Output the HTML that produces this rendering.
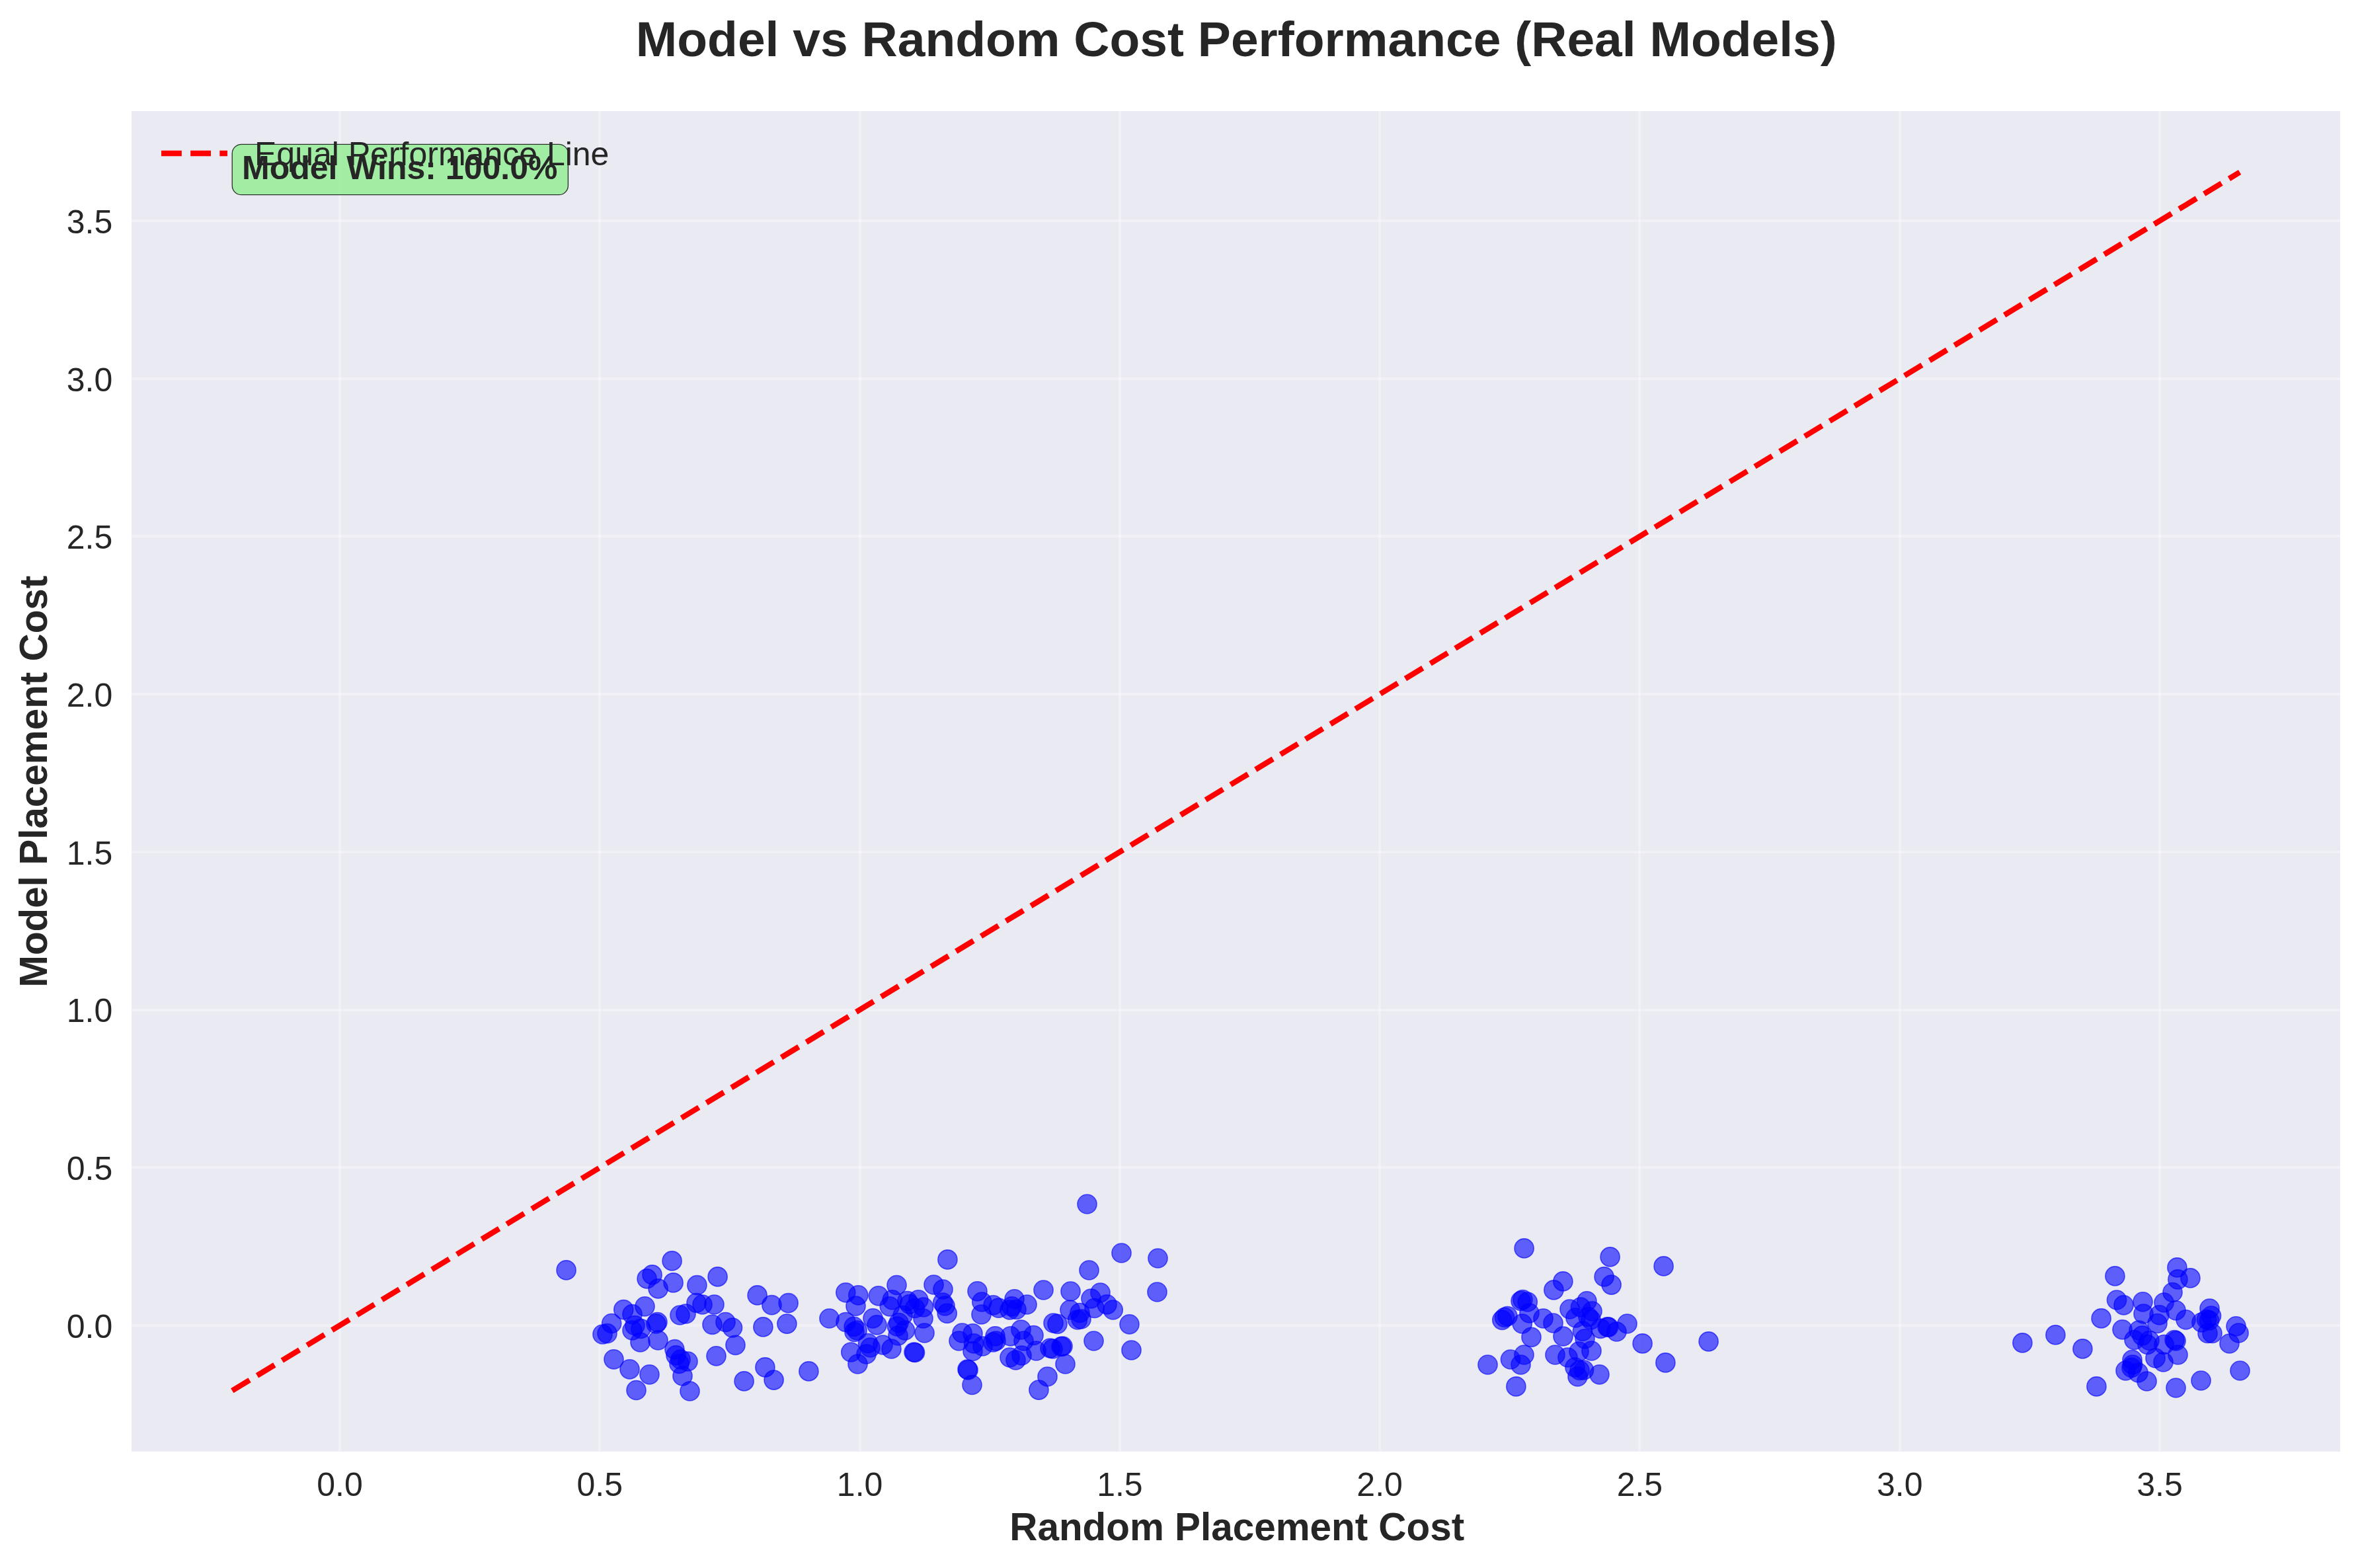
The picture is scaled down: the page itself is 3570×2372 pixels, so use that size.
<!DOCTYPE html>
<html><head><meta charset="utf-8"><title>Model vs Random Cost Performance</title>
<style>
html,body{margin:0;padding:0;background:#fff;}
body{width:3570px;height:2372px;overflow:hidden;}
svg{display:block;font-family:"Liberation Sans",sans-serif;fill:#262626;}
.g line{stroke:#fff;stroke-opacity:.3;stroke-width:4;}
.tk{font-size:50px;}
.p circle{fill:#0000ff;fill-opacity:.6;stroke:#0000ff;stroke-opacity:.6;stroke-width:1.6;}
</style></head><body>
<svg width="3570" height="2372" viewBox="0 0 3570 2372">
<rect x="0" y="0" width="3570" height="2372" fill="#ffffff"/>
<rect x="199.0" y="168.0" width="3341.0" height="2027.8" fill="#eaeaf2"/>
<g class="g">
<line x1="514" y1="168.0" x2="514" y2="2195.8"/>
<line x1="199.0" y1="2005" x2="3540.0" y2="2005"/>
<line x1="907" y1="168.0" x2="907" y2="2195.8"/>
<line x1="199.0" y1="1766" x2="3540.0" y2="1766"/>
<line x1="1301" y1="168.0" x2="1301" y2="2195.8"/>
<line x1="199.0" y1="1528" x2="3540.0" y2="1528"/>
<line x1="1694" y1="168.0" x2="1694" y2="2195.8"/>
<line x1="199.0" y1="1289" x2="3540.0" y2="1289"/>
<line x1="2087" y1="168.0" x2="2087" y2="2195.8"/>
<line x1="199.0" y1="1050" x2="3540.0" y2="1050"/>
<line x1="2480" y1="168.0" x2="2480" y2="2195.8"/>
<line x1="199.0" y1="811" x2="3540.0" y2="811"/>
<line x1="2874" y1="168.0" x2="2874" y2="2195.8"/>
<line x1="199.0" y1="573" x2="3540.0" y2="573"/>
<line x1="3267" y1="168.0" x2="3267" y2="2195.8"/>
<line x1="199.0" y1="334" x2="3540.0" y2="334"/>
</g>
<g class="tk" text-anchor="middle">
<text x="514.0" y="2263">0.0</text>
<text x="907.3" y="2263">0.5</text>
<text x="1300.6" y="2263">1.0</text>
<text x="1693.9" y="2263">1.5</text>
<text x="2087.1" y="2263">2.0</text>
<text x="2480.4" y="2263">2.5</text>
<text x="2873.7" y="2263">3.0</text>
<text x="3267.0" y="2263">3.5</text>
</g><g class="tk" text-anchor="end">
<text x="170.3" y="2023.8">0.0</text>
<text x="170.3" y="1785.1">0.5</text>
<text x="170.3" y="1546.4">1.0</text>
<text x="170.3" y="1307.7">1.5</text>
<text x="170.3" y="1068.9">2.0</text>
<text x="170.3" y="830.2">2.5</text>
<text x="170.3" y="591.5">3.0</text>
<text x="170.3" y="352.8">3.5</text>
</g>
<g class="p">
<circle cx="856.6" cy="1921.4" r="14.55"/>
<circle cx="1016.6" cy="1907.4" r="14.55"/>
<circle cx="986.6" cy="1928.4" r="14.55"/>
<circle cx="978.6" cy="1934.4" r="14.55"/>
<circle cx="995.6" cy="1949.4" r="14.55"/>
<circle cx="1018.6" cy="1940.4" r="14.55"/>
<circle cx="1054.4" cy="1944.2" r="14.55"/>
<circle cx="1085.6" cy="1931.4" r="14.55"/>
<circle cx="1145.6" cy="1959.4" r="14.55"/>
<circle cx="1167.4" cy="1974.2" r="14.55"/>
<circle cx="1192.6" cy="1971.2" r="14.55"/>
<circle cx="1154.4" cy="2007.4" r="14.55"/>
<circle cx="1190.4" cy="2002.6" r="14.55"/>
<circle cx="1125.6" cy="2089.4" r="14.55"/>
<circle cx="1157.4" cy="2068.4" r="14.55"/>
<circle cx="1170.6" cy="2087.6" r="14.55"/>
<circle cx="1223.4" cy="2074.4" r="14.55"/>
<circle cx="943.3" cy="1981.2" r="14.55"/>
<circle cx="956.5" cy="1988.2" r="14.55"/>
<circle cx="975.5" cy="1976.3" r="14.55"/>
<circle cx="925.2" cy="2002.0" r="14.55"/>
<circle cx="911.5" cy="2018.5" r="14.55"/>
<circle cx="918.5" cy="2017.2" r="14.55"/>
<circle cx="960.5" cy="2005.2" r="14.55"/>
<circle cx="956.5" cy="2012.5" r="14.55"/>
<circle cx="969.5" cy="2010.0" r="14.55"/>
<circle cx="994.5" cy="2000.0" r="14.55"/>
<circle cx="992.5" cy="2002.5" r="14.55"/>
<circle cx="968.5" cy="2030.5" r="14.55"/>
<circle cx="995.5" cy="2027.5" r="14.55"/>
<circle cx="1028.5" cy="1989.5" r="14.55"/>
<circle cx="1037.5" cy="1987.5" r="14.55"/>
<circle cx="1053.5" cy="1971.0" r="14.55"/>
<circle cx="1062.5" cy="1973.5" r="14.55"/>
<circle cx="1080.5" cy="1973.5" r="14.55"/>
<circle cx="1077.5" cy="2003.8" r="14.55"/>
<circle cx="1097.5" cy="2000.0" r="14.55"/>
<circle cx="1108.0" cy="2008.5" r="14.55"/>
<circle cx="1112.5" cy="2034.8" r="14.55"/>
<circle cx="1083.5" cy="2051.3" r="14.55"/>
<circle cx="1020.5" cy="2041.2" r="14.55"/>
<circle cx="1022.5" cy="2050.3" r="14.55"/>
<circle cx="1029.5" cy="2056.5" r="14.55"/>
<circle cx="1027.5" cy="2063.0" r="14.55"/>
<circle cx="1040.5" cy="2059.5" r="14.55"/>
<circle cx="1032.5" cy="2081.5" r="14.55"/>
<circle cx="1043.5" cy="2104.5" r="14.55"/>
<circle cx="928.5" cy="2056.3" r="14.55"/>
<circle cx="952.5" cy="2071.3" r="14.55"/>
<circle cx="982.5" cy="2079.3" r="14.55"/>
<circle cx="962.5" cy="2103.0" r="14.55"/>
<circle cx="1279.3" cy="1955.3" r="14.55"/>
<circle cx="1298.3" cy="1959.3" r="14.55"/>
<circle cx="1328.8" cy="1960.3" r="14.55"/>
<circle cx="1356.5" cy="1944.0" r="14.55"/>
<circle cx="1412.5" cy="1943.5" r="14.55"/>
<circle cx="1426.5" cy="1950.5" r="14.55"/>
<circle cx="1294.5" cy="1975.7" r="14.55"/>
<circle cx="1349.8" cy="1966.3" r="14.55"/>
<circle cx="1345.8" cy="1976.3" r="14.55"/>
<circle cx="1372.5" cy="1968.0" r="14.55"/>
<circle cx="1389.3" cy="1966.3" r="14.55"/>
<circle cx="1376.0" cy="1973.0" r="14.55"/>
<circle cx="1384.0" cy="1979.0" r="14.55"/>
<circle cx="1397.0" cy="1977.5" r="14.55"/>
<circle cx="1396.5" cy="1994.5" r="14.55"/>
<circle cx="1365.5" cy="1990.0" r="14.55"/>
<circle cx="1426.2" cy="1970.5" r="14.55"/>
<circle cx="1429.5" cy="1975.5" r="14.55"/>
<circle cx="1432.7" cy="1986.8" r="14.55"/>
<circle cx="1254.5" cy="1994.5" r="14.55"/>
<circle cx="1279.5" cy="2000.0" r="14.55"/>
<circle cx="1291.7" cy="2006.8" r="14.55"/>
<circle cx="1292.5" cy="2015.0" r="14.55"/>
<circle cx="1296.5" cy="2012.5" r="14.55"/>
<circle cx="1320.5" cy="1994.3" r="14.55"/>
<circle cx="1326.5" cy="2004.3" r="14.55"/>
<circle cx="1359.5" cy="2001.0" r="14.55"/>
<circle cx="1357.0" cy="2006.5" r="14.55"/>
<circle cx="1369.0" cy="2012.5" r="14.55"/>
<circle cx="1358.5" cy="2020.5" r="14.55"/>
<circle cx="1398.5" cy="2016.5" r="14.55"/>
<circle cx="1313.0" cy="2032.0" r="14.55"/>
<circle cx="1316.5" cy="2038.5" r="14.55"/>
<circle cx="1335.5" cy="2034.5" r="14.55"/>
<circle cx="1348.5" cy="2040.5" r="14.55"/>
<circle cx="1382.5" cy="2045.5" r="14.55"/>
<circle cx="1384.0" cy="2046.0" r="14.55"/>
<circle cx="1287.3" cy="2045.5" r="14.55"/>
<circle cx="1310.5" cy="2048.5" r="14.55"/>
<circle cx="1297.5" cy="2063.5" r="14.55"/>
<circle cx="1478.5" cy="1953.3" r="14.55"/>
<circle cx="1485.3" cy="1969.5" r="14.55"/>
<circle cx="1484.5" cy="1988.5" r="14.55"/>
<circle cx="1502.5" cy="1974.3" r="14.55"/>
<circle cx="1510.5" cy="1978.7" r="14.55"/>
<circle cx="1534.5" cy="1965.3" r="14.55"/>
<circle cx="1530.5" cy="1976.3" r="14.55"/>
<circle cx="1527.5" cy="1981.5" r="14.55"/>
<circle cx="1537.5" cy="1981.0" r="14.55"/>
<circle cx="1553.5" cy="1973.5" r="14.55"/>
<circle cx="1578.5" cy="1951.5" r="14.55"/>
<circle cx="1619.5" cy="1953.5" r="14.55"/>
<circle cx="1650.5" cy="1964.5" r="14.55"/>
<circle cx="1664.5" cy="1955.5" r="14.55"/>
<circle cx="1655.5" cy="1979.0" r="14.55"/>
<circle cx="1618.5" cy="1981.5" r="14.55"/>
<circle cx="1633.5" cy="1986.0" r="14.55"/>
<circle cx="1630.0" cy="1996.5" r="14.55"/>
<circle cx="1635.5" cy="1995.5" r="14.55"/>
<circle cx="1593.5" cy="2001.5" r="14.55"/>
<circle cx="1599.5" cy="2002.8" r="14.55"/>
<circle cx="1455.5" cy="2016.5" r="14.55"/>
<circle cx="1471.5" cy="2017.3" r="14.55"/>
<circle cx="1450.5" cy="2028.5" r="14.55"/>
<circle cx="1473.0" cy="2032.3" r="14.55"/>
<circle cx="1471.5" cy="2044.0" r="14.55"/>
<circle cx="1486.5" cy="2036.5" r="14.55"/>
<circle cx="1505.5" cy="2021.3" r="14.55"/>
<circle cx="1502.5" cy="2030.5" r="14.55"/>
<circle cx="1506.5" cy="2028.5" r="14.55"/>
<circle cx="1528.5" cy="2021.3" r="14.55"/>
<circle cx="1544.5" cy="2011.5" r="14.55"/>
<circle cx="1563.5" cy="2020.0" r="14.55"/>
<circle cx="1548.5" cy="2028.5" r="14.55"/>
<circle cx="1567.5" cy="2043.5" r="14.55"/>
<circle cx="1545.5" cy="2050.5" r="14.55"/>
<circle cx="1527.5" cy="2053.5" r="14.55"/>
<circle cx="1536.5" cy="2057.5" r="14.55"/>
<circle cx="1588.5" cy="2039.5" r="14.55"/>
<circle cx="1592.5" cy="2040.5" r="14.55"/>
<circle cx="1605.5" cy="2037.0" r="14.55"/>
<circle cx="1607.5" cy="2036.5" r="14.55"/>
<circle cx="1654.5" cy="2028.5" r="14.55"/>
<circle cx="1611.5" cy="2063.5" r="14.55"/>
<circle cx="1584.5" cy="2082.5" r="14.55"/>
<circle cx="1463.5" cy="2071.5" r="14.55"/>
<circle cx="1464.5" cy="2072.5" r="14.55"/>
<circle cx="1470.5" cy="2095.0" r="14.55"/>
<circle cx="1750.5" cy="1954.5" r="14.55"/>
<circle cx="1674.5" cy="1973.3" r="14.55"/>
<circle cx="1683.7" cy="1981.5" r="14.55"/>
<circle cx="1708.5" cy="2003.3" r="14.55"/>
<circle cx="1711.5" cy="2042.5" r="14.55"/>
<circle cx="1644.5" cy="1821.5" r="14.55"/>
<circle cx="1696.5" cy="1895.5" r="14.55"/>
<circle cx="1751.5" cy="1903.5" r="14.55"/>
<circle cx="1647.5" cy="1921.5" r="14.55"/>
<circle cx="1433.4" cy="1905.4" r="14.55"/>
<circle cx="1571.4" cy="2102.6" r="14.55"/>
<circle cx="2305.6" cy="1888.4" r="14.55"/>
<circle cx="2435.6" cy="1901.4" r="14.55"/>
<circle cx="2516.6" cy="1915.4" r="14.55"/>
<circle cx="2426.6" cy="1931.4" r="14.55"/>
<circle cx="2437.6" cy="1943.6" r="14.55"/>
<circle cx="2364.4" cy="1938.4" r="14.55"/>
<circle cx="2350.4" cy="1951.4" r="14.55"/>
<circle cx="2584.6" cy="2029.4" r="14.55"/>
<circle cx="2484.6" cy="2032.4" r="14.55"/>
<circle cx="2519.4" cy="2061.4" r="14.55"/>
<circle cx="2293.4" cy="2097.4" r="14.55"/>
<circle cx="2300.5" cy="1968.0" r="14.55"/>
<circle cx="2303.5" cy="1966.2" r="14.55"/>
<circle cx="2310.8" cy="1969.5" r="14.55"/>
<circle cx="2272.3" cy="1996.8" r="14.55"/>
<circle cx="2276.0" cy="1993.0" r="14.55"/>
<circle cx="2280.5" cy="1991.0" r="14.55"/>
<circle cx="2313.5" cy="1986.5" r="14.55"/>
<circle cx="2302.7" cy="2002.5" r="14.55"/>
<circle cx="2334.5" cy="1994.5" r="14.55"/>
<circle cx="2349.5" cy="2001.5" r="14.55"/>
<circle cx="2316.5" cy="2022.8" r="14.55"/>
<circle cx="2364.5" cy="2021.5" r="14.55"/>
<circle cx="2374.5" cy="1980.5" r="14.55"/>
<circle cx="2400.5" cy="1968.3" r="14.55"/>
<circle cx="2391.0" cy="1977.5" r="14.55"/>
<circle cx="2383.5" cy="1993.5" r="14.55"/>
<circle cx="2408.5" cy="1983.5" r="14.55"/>
<circle cx="2402.5" cy="1992.0" r="14.55"/>
<circle cx="2406.5" cy="1996.5" r="14.55"/>
<circle cx="2394.0" cy="2013.7" r="14.55"/>
<circle cx="2397.5" cy="2025.3" r="14.55"/>
<circle cx="2421.2" cy="2009.8" r="14.55"/>
<circle cx="2431.6" cy="2007.4" r="14.55"/>
<circle cx="2433.2" cy="2007.6" r="14.55"/>
<circle cx="2445.5" cy="2014.5" r="14.55"/>
<circle cx="2461.5" cy="2002.5" r="14.55"/>
<circle cx="2388.5" cy="2044.5" r="14.55"/>
<circle cx="2407.5" cy="2043.5" r="14.55"/>
<circle cx="2352.5" cy="2049.5" r="14.55"/>
<circle cx="2371.5" cy="2053.5" r="14.55"/>
<circle cx="2382.5" cy="2068.5" r="14.55"/>
<circle cx="2389.5" cy="2073.0" r="14.55"/>
<circle cx="2396.0" cy="2072.5" r="14.55"/>
<circle cx="2386.5" cy="2082.5" r="14.55"/>
<circle cx="2419.5" cy="2079.3" r="14.55"/>
<circle cx="2305.5" cy="2049.5" r="14.55"/>
<circle cx="2285.0" cy="2056.5" r="14.55"/>
<circle cx="2300.5" cy="2064.5" r="14.55"/>
<circle cx="2250.5" cy="2064.5" r="14.55"/>
<circle cx="3059.4" cy="2031.4" r="14.55"/>
<circle cx="3109.4" cy="2019.4" r="14.55"/>
<circle cx="3150.4" cy="2040.4" r="14.55"/>
<circle cx="3178.6" cy="1994.4" r="14.55"/>
<circle cx="3199.4" cy="1930.4" r="14.55"/>
<circle cx="3293.4" cy="1917.4" r="14.55"/>
<circle cx="3294.4" cy="1935.4" r="14.55"/>
<circle cx="3313.4" cy="1933.4" r="14.55"/>
<circle cx="3171.4" cy="2097.4" r="14.55"/>
<circle cx="3202.0" cy="1966.5" r="14.55"/>
<circle cx="3212.5" cy="1974.3" r="14.55"/>
<circle cx="3241.5" cy="1969.3" r="14.55"/>
<circle cx="3242.5" cy="1987.5" r="14.55"/>
<circle cx="3273.5" cy="1970.5" r="14.55"/>
<circle cx="3286.5" cy="1955.0" r="14.55"/>
<circle cx="3291.5" cy="1982.3" r="14.55"/>
<circle cx="3266.5" cy="1989.3" r="14.55"/>
<circle cx="3263.5" cy="2002.0" r="14.55"/>
<circle cx="3306.5" cy="1996.3" r="14.55"/>
<circle cx="3210.5" cy="2011.3" r="14.55"/>
<circle cx="3235.5" cy="2012.5" r="14.55"/>
<circle cx="3240.5" cy="2020.5" r="14.55"/>
<circle cx="3228.5" cy="2027.0" r="14.55"/>
<circle cx="3251.5" cy="2028.0" r="14.55"/>
<circle cx="3248.5" cy="2034.0" r="14.55"/>
<circle cx="3273.5" cy="2034.0" r="14.55"/>
<circle cx="3289.5" cy="2027.0" r="14.55"/>
<circle cx="3291.5" cy="2028.5" r="14.55"/>
<circle cx="3294.5" cy="2049.5" r="14.55"/>
<circle cx="3260.5" cy="2054.5" r="14.55"/>
<circle cx="3272.5" cy="2060.5" r="14.55"/>
<circle cx="3225.5" cy="2057.0" r="14.55"/>
<circle cx="3226.0" cy="2064.5" r="14.55"/>
<circle cx="3224.5" cy="2069.0" r="14.55"/>
<circle cx="3215.5" cy="2073.5" r="14.55"/>
<circle cx="3234.5" cy="2076.5" r="14.55"/>
<circle cx="3247.5" cy="2089.5" r="14.55"/>
<circle cx="3291.5" cy="2099.5" r="14.55"/>
<circle cx="3329.5" cy="2088.5" r="14.55"/>
<circle cx="3388.5" cy="2073.5" r="14.55"/>
<circle cx="3372.5" cy="2032.5" r="14.55"/>
<circle cx="3382.5" cy="2006.3" r="14.55"/>
<circle cx="3386.5" cy="2016.5" r="14.55"/>
<circle cx="3342.5" cy="1979.5" r="14.55"/>
<circle cx="3345.0" cy="1990.5" r="14.55"/>
<circle cx="3330.5" cy="2000.5" r="14.55"/>
<circle cx="3338.0" cy="1996.0" r="14.55"/>
<circle cx="3342.0" cy="1997.5" r="14.55"/>
<circle cx="3339.5" cy="2017.0" r="14.55"/>
<circle cx="3346.5" cy="2017.0" r="14.55"/>
</g>
<line x1="351.2" y1="2103.8" x2="3388.1" y2="260.5" stroke="#ff0000" stroke-width="8.33" stroke-dasharray="30.83 13.34"/>
<rect x="351.2" y="218.3" width="508.2" height="76.4" rx="14" ry="14" fill="#90ee90" fill-opacity=".8" stroke="#000" stroke-opacity=".8" stroke-width="1.3"/>
<text x="366" y="271" font-size="50" font-weight="bold">Model Wins: 100.0%</text>
<line x1="244" y1="232" x2="344" y2="232" stroke="#ff0000" stroke-width="8.33" stroke-dasharray="30.83 13.34"/>
<text x="385" y="250" font-size="50">Equal Performance Line</text>
<text x="1870.3" y="85.3" font-size="75" font-weight="bold" text-anchor="middle">Model vs Random Cost Performance (Real Models)</text>
<text x="1871.2" y="2329.6" font-size="58.4" font-weight="bold" text-anchor="middle">Random Placement Cost</text>
<text transform="translate(71.3,1182.2) rotate(-90)" font-size="58.4" font-weight="bold" text-anchor="middle">Model Placement Cost</text>
</svg></body></html>
